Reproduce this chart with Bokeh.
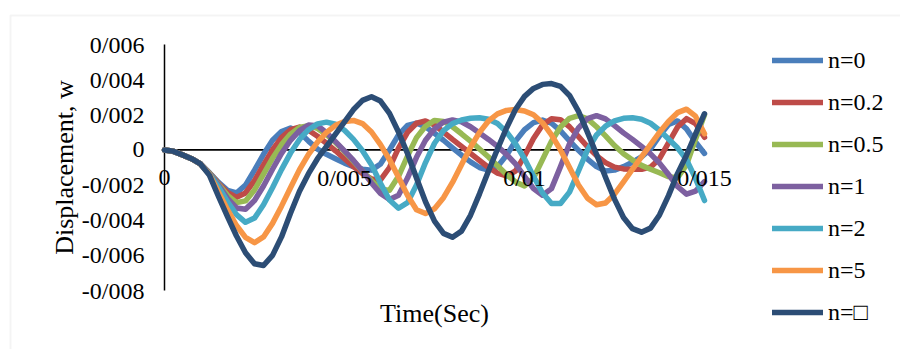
import math
from bokeh.plotting import figure
from bokeh.models import (Range1d, ColumnDataSource, Legend, LegendItem, BoxAnnotation,
                          LabelSet, Label)
from bokeh.embed import file_html
from bokeh.resources import INLINE

# ---------------- data (displacement in units of 1e-3, time in ms) ----------------
time_ms = [0, 0.25, 0.5, 0.75, 1, 1.25, 1.5, 1.75, 2, 2.25, 2.5, 2.75, 3, 3.25, 3.5, 3.75,
           4, 4.25, 4.5, 4.75, 5, 5.25, 5.5, 5.75, 6, 6.25, 6.5, 6.75, 7, 7.25, 7.5, 7.75,
           8, 8.25, 8.5, 8.75, 9, 9.25, 9.5, 9.75, 10, 10.25, 10.5, 10.75, 11, 11.25, 11.5,
           11.75, 12, 12.25, 12.5, 12.75, 13, 13.25, 13.5, 13.75, 14, 14.25, 14.5, 14.75, 15]

w_n0 = [0, -0.08, -0.28, -0.5, -0.8, -1.3, -1.85, -2.3, -2.45, -2.0, -1.15, -0.25, 0.55, 1.05,
        1.25, 1.0, 0.5, 0.05, -0.25, -0.5, -0.75, -0.95, -1.1, -1.15, -0.8, 0.0, 0.85, 1.4,
        1.52, 1.32, 0.95, 0.55, 0.12, -0.3, -0.68, -1.0, -1.15, -0.95, -0.3, 0.5, 1.15, 1.55,
        1.7, 1.52, 1.08, 0.52, -0.02, -0.52, -0.95, -1.2, -1.15, -0.95, -0.7, -0.4, 0.05, 0.8,
        1.45, 1.65, 1.2, 0.45, -0.2]

w_n02 = [0, -0.08, -0.28, -0.5, -0.8, -1.32, -1.9, -2.42, -2.7, -2.45, -1.75, -0.85, 0.0,
         0.7, 1.15, 1.3, 1.12, 0.78, 0.38, -0.05, -0.5, -0.95, -1.35, -1.65, -1.7, -1.0, 0.1,
         1.0, 1.52, 1.65, 1.42, 1.02, 0.6, 0.2, -0.2, -0.6, -1.0, -1.32, -1.48, -1.2, -0.35, 0.65,
         1.42, 1.78, 1.72, 1.32, 0.76, 0.18, -0.32, -0.72, -0.98, -1.08, -1.1, -1.1, -0.98, -0.5,
         0.4, 1.3, 1.78, 1.5, 0.72]

w_n05 = [0, -0.08, -0.28, -0.5, -0.8, -1.33, -1.95, -2.58, -3.0, -2.9, -2.28, -1.38, -0.48,
         0.3, 0.9, 1.28, 1.38, 1.22, 0.87, 0.42, -0.1, -0.65, -1.2, -1.75, -2.22, -2.3, -1.5, -0.35,
         0.7, 1.35, 1.68, 1.62, 1.32, 0.92, 0.5, 0.05, -0.4, -0.9, -1.4, -1.82, -2.05, -1.6, -0.55,
         0.5, 1.3, 1.8, 1.95, 1.77, 1.32, 0.8, 0.25, -0.22, -0.58, -0.88, -1.1, -1.3, -1.52, -1.58,
         -0.85, 0.6, 2.0]

w_n1 = [0, -0.08, -0.28, -0.5, -0.8, -1.35, -2.0, -2.75, -3.3, -3.38, -2.88, -2.05, -1.1,
        -0.2, 0.55, 1.1, 1.42, 1.38, 0.98, 0.47, -0.05, -0.6, -1.2, -1.88, -2.48, -2.82, -2.58,
        -1.6, -0.42, 0.55, 1.2, 1.58, 1.71, 1.6, 1.32, 0.96, 0.6, 0.2, -0.25, -0.8, -1.5, -2.2,
        -2.58, -2.2, -0.95, 0.35, 1.25, 1.78, 1.95, 1.77, 1.38, 0.97, 0.6, 0.2, -0.22, -0.75,
        -1.4, -2.08, -2.52, -2.35, -1.8]

w_n2 = [0, -0.08, -0.28, -0.5, -0.8, -1.37, -2.1, -2.95, -3.68, -4.12, -3.88, -3.12, -2.15,
        -1.12, -0.18, 0.6, 1.15, 1.48, 1.58, 1.46, 1.12, 0.6, -0.05, -0.85, -1.9, -2.85, -3.32,
        -3.0, -2.0, -0.72, 0.38, 1.1, 1.5, 1.7, 1.8, 1.83, 1.75, 1.5, 1.02, 0.35, -0.5, -1.5,
        -2.45, -3.05, -3.05, -2.4, -1.2, 0.0, 0.85, 1.35, 1.65, 1.8, 1.83, 1.75, 1.52, 1.12, 0.62,
        0.12, -0.55, -1.62, -2.88]

w_n5 = [0, -0.08, -0.28, -0.5, -0.8, -1.4, -2.4, -3.4, -4.3, -4.98, -5.28, -4.95, -4.18,
        -3.2, -2.15, -1.12, -0.25, 0.45, 1.0, 1.4, 1.62, 1.68, 1.5, 1.02, 0.3, -0.55, -1.55,
        -2.58, -3.4, -3.62, -3.35, -2.72, -1.85, -0.85, 0.15, 1.0, 1.65, 2.05, 2.25, 2.3, 2.22,
        2.0, 1.55, 0.85, 0.0, -1.0, -2.0, -2.75, -3.12, -3.02, -2.52, -1.82, -1.1, -0.4, 0.3, 1.0,
        1.62, 2.12, 2.32, 1.92, 0.92]

w_ninf = [0, -0.08, -0.28, -0.5, -0.8, -1.45, -2.65, -3.8, -4.9, -5.85, -6.48, -6.58, -6.0,
          -4.95, -3.6, -2.35, -1.35, -0.5, 0.2, 0.9, 1.6, 2.3, 2.82, 3.03, 2.78, 2.08, 1.02,
          -0.2, -1.6, -2.95, -4.05, -4.75, -4.97, -4.62, -3.72, -2.5, -1.2, 0.05, 1.25, 2.3,
          3.05, 3.5, 3.73, 3.78, 3.62, 3.1, 2.2, 1.0, -0.25, -1.55, -2.8, -3.85, -4.48, -4.68,
          -4.45, -3.7, -2.6, -1.35, -0.3, 0.9, 2.06]

series_names = ["n=0", "n=0.2", "n=0.5", "n=1", "n=2", "n=5", "n=\u25a1"]
series_values = [w_n0, w_n02, w_n05, w_n1, w_n2, w_n5, w_ninf]
series_colors = ["#4A7EBB", "#BE4B48", "#98B954", "#7D60A0", "#46AAC5", "#F79646", "#2C4D75"]

y_ticks = [-0.008, -0.006, -0.004, -0.002, 0, 0.002, 0.004, 0.006]
y_tick_labels = ["-0/008", "-0/006", "-0/004", "-0/002", "0", "0/002", "0/004", "0/006"]
x_ticks = [0, 0.005, 0.01, 0.015]
x_tick_labels = ["0", "0/005", "0/01", "0/015"]

x_title = "Time(Sec)"
y_title = "Displacement, w"

# ---------------- layout (canvas pixels) ----------------
W, H = 900, 349
PX_X0, PX_X1 = 164, 704      # pixel columns of first / last x tick
PX_YTOP, PX_YBOT = 44, 290   # pixel rows of top / bottom y tick
FONT = "Liberation Serif"

x_lo, x_hi = x_ticks[0], x_ticks[-1]
y_lo, y_hi = y_ticks[0], y_ticks[-1]
dx = (x_hi - x_lo) / (PX_X1 - PX_X0)
dy = (y_hi - y_lo) / (PX_YBOT - PX_YTOP)


def px_x(px):
    return x_lo + (px - PX_X0) * dx


def px_y(py):
    return y_hi - (py - PX_YTOP) * dy


p = figure(width=W, height=H, output_backend="svg", toolbar_location=None,
           x_range=Range1d(px_x(0), px_x(W)), y_range=Range1d(px_y(H), px_y(0)),
           x_axis_location=None, y_axis_location=None, min_border=0)
p.background_fill_color = "white"
p.border_fill_color = "white"
p.outline_line_color = None
p.xgrid.visible = False
p.ygrid.visible = False

# chart-area border (light grey, open to the right and bottom like the reference crop)
p.add_layout(BoxAnnotation(left=px_x(10), right=px_x(W + 50), top=px_y(15), bottom=px_y(H + 50),
                           fill_alpha=0, line_color="#d9d9d9", line_width=2))

# axis lines: vertical at x=0, horizontal at w=0
p.line([x_lo, x_lo], [y_lo, y_hi], line_color="black", line_width=1.5)
p.line([x_lo, x_hi], [0, 0], line_color="black", line_width=1.8)

t_sec = [t / 1000.0 for t in time_ms]
items = []
for name, vals, col in zip(series_names, series_values, series_colors):
    src = ColumnDataSource(dict(t=t_sec, w=[v / 1000.0 for v in vals]))
    r = p.line("t", "w", source=src, line_color=col, line_width=5.5,
               line_cap="round", line_join="round")
    items.append(LegendItem(label=name, renderers=[r]))

# y tick labels
ysrc = ColumnDataSource(dict(x=[x_lo] * len(y_ticks), y=y_ticks, text=y_tick_labels))
p.add_layout(LabelSet(x="x", y="y", text="text", source=ysrc, x_offset=-20,
                      text_align="right", text_baseline="middle",
                      text_font=FONT, text_font_size="24px", text_color="black"))

# x tick labels (below the zero line)
xsrc = ColumnDataSource(dict(x=x_ticks, y=[0] * len(x_ticks), text=x_tick_labels))
p.add_layout(LabelSet(x="x", y="y", text="text", source=xsrc, y_offset=-28,
                      text_align="center", text_baseline="middle",
                      text_font=FONT, text_font_size="24px", text_color="black"))

# axis titles
p.add_layout(Label(x=px_x(434), y=px_y(313), text=x_title, text_align="center",
                   text_baseline="middle", text_font=FONT, text_font_size="26px",
                   text_color="black"))
p.add_layout(Label(x=px_x(64), y=(y_lo + y_hi) / 2, text=y_title, angle=math.pi / 2,
                   text_align="center", text_baseline="middle", text_font=FONT,
                   text_font_size="26px", text_color="black"))

legend = Legend(items=items, location=(772, H - 326), orientation="vertical",
                glyph_width=51, glyph_height=28, label_height=28, spacing=14,
                padding=0, margin=0, label_standoff=5,
                label_text_font=FONT, label_text_font_size="24px", label_text_color="black",
                border_line_alpha=0, background_fill_alpha=0)
p.add_layout(legend)

open("out.html", "w").write(file_html(p, INLINE))
